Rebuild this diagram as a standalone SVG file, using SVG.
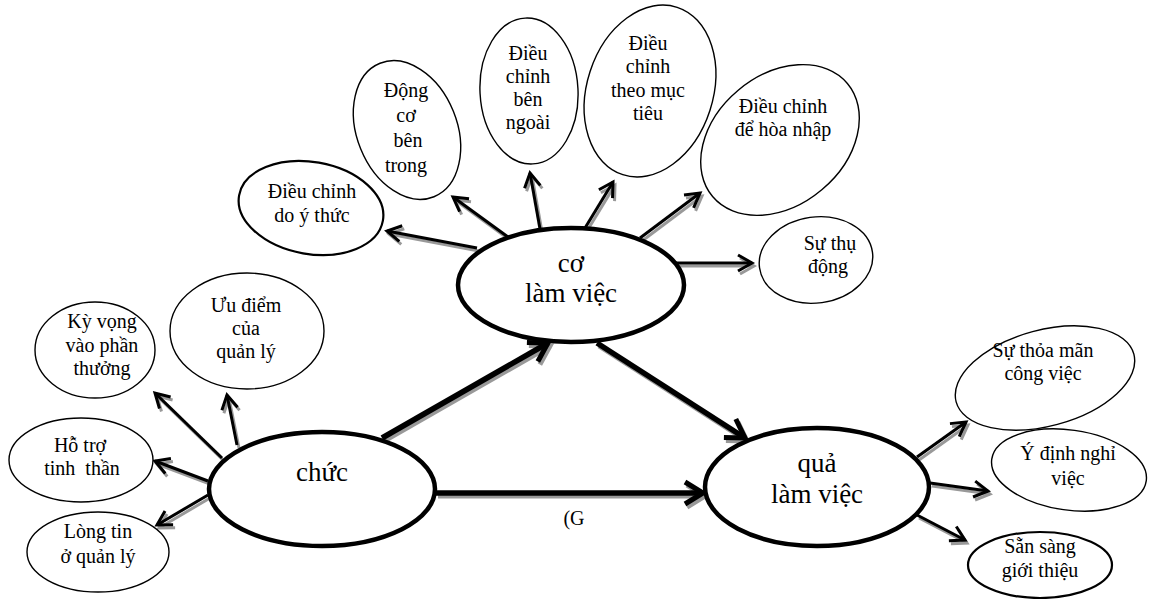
<svg xmlns="http://www.w3.org/2000/svg" width="1149" height="599" viewBox="0 0 1149 599">
<style>
.bg{fill:#fff}
.sm{fill:#fff;stroke:#000;stroke-width:1.4}
.smb{fill:#fff;stroke:#000;stroke-width:2.2}
.mn{fill:#fff;stroke:#000;stroke-width:4.5}
text{font-family:'Liberation Serif','DejaVu Serif',serif;fill:#000;text-anchor:middle}
.t{font-size:20px}
.tm{font-size:27px}
.ln{stroke:#000;stroke-width:3;fill:none;marker-end:url(#ah)}
.lns{stroke:#999;stroke-width:3;fill:none;marker-end:url(#ahs)}
.lk{stroke:#000;stroke-width:5.5;fill:none;marker-end:url(#ahk)}
.lks{stroke:#999;stroke-width:5;fill:none;marker-end:url(#ahks)}
</style>
<defs>
<marker id="ah" markerUnits="userSpaceOnUse" viewBox="-20 -12 24 24" refX="0" refY="0" markerWidth="24" markerHeight="24" orient="auto">
<path d="M-14,-8 L0,0 L-14,8" fill="none" stroke="#000" stroke-width="3"/>
</marker>
<marker id="ahs" markerUnits="userSpaceOnUse" viewBox="-20 -12 24 24" refX="0" refY="0" markerWidth="24" markerHeight="24" orient="auto">
<path d="M-14,-8 L0,0 L-14,8" fill="none" stroke="#999" stroke-width="3"/>
</marker>
<marker id="ahk" markerUnits="userSpaceOnUse" viewBox="-26 -16 32 32" refX="0" refY="0" markerWidth="32" markerHeight="32" orient="auto">
<path d="M-18,-11 L0,0 L-18,11" fill="none" stroke="#000" stroke-width="5"/>
</marker>
<marker id="ahks" markerUnits="userSpaceOnUse" viewBox="-26 -16 32 32" refX="0" refY="0" markerWidth="32" markerHeight="32" orient="auto">
<path d="M-18,-11 L0,0 L-18,11" fill="none" stroke="#999" stroke-width="5"/>
</marker>
</defs>
<rect class="bg" x="0" y="0" width="1149" height="599"/>

<g id="connectors">
<g id="shadows" transform="translate(2,3)">
<line class="lns" x1="477" y1="248" x2="387" y2="231"/>
<line class="lns" x1="508" y1="237" x2="453" y2="197"/>
<line class="lns" x1="540" y1="229" x2="530" y2="173"/>
<line class="lns" x1="585" y1="228" x2="613" y2="182"/>
<line class="lns" x1="640" y1="238" x2="700" y2="193"/>
<line class="lns" x1="675" y1="263" x2="752" y2="263"/>
<line class="lns" x1="237" y1="445" x2="227" y2="395"/>
<line class="lns" x1="222" y1="458" x2="155" y2="393"/>
<line class="lns" x1="208" y1="481" x2="155" y2="461"/>
<line class="lns" x1="208" y1="495" x2="157" y2="525"/>
<line class="lns" x1="917" y1="457" x2="966" y2="422"/>
<line class="lns" x1="930" y1="483" x2="988" y2="491"/>
<line class="lns" x1="917" y1="515" x2="965" y2="540"/>
<line class="lks" x1="382" y1="438" x2="548" y2="343"/>
<line class="lks" x1="597" y1="343" x2="745" y2="438"/>
<line class="lks" x1="436" y1="493" x2="703" y2="493"/>
</g>
<line class="ln" x1="477" y1="248" x2="387" y2="231"/>
<line class="ln" x1="508" y1="237" x2="453" y2="197"/>
<line class="ln" x1="540" y1="229" x2="530" y2="173"/>
<line class="ln" x1="585" y1="228" x2="613" y2="182"/>
<line class="ln" x1="640" y1="238" x2="700" y2="193"/>
<line class="ln" x1="675" y1="263" x2="752" y2="263"/>
<line class="ln" x1="237" y1="445" x2="227" y2="395"/>
<line class="ln" x1="222" y1="458" x2="155" y2="393"/>
<line class="ln" x1="208" y1="481" x2="155" y2="461"/>
<line class="ln" x1="208" y1="495" x2="157" y2="525"/>
<line class="ln" x1="917" y1="457" x2="966" y2="422"/>
<line class="ln" x1="930" y1="483" x2="988" y2="491"/>
<line class="ln" x1="917" y1="515" x2="965" y2="540"/>
<line class="lk" x1="382" y1="438" x2="548" y2="343"/>
<line class="lk" x1="597" y1="343" x2="745" y2="438"/>
<line class="lk" x1="436" y1="493" x2="703" y2="493"/>
<text class="t" x="574" y="525" font-family="Liberation Serif, serif">(G</text>
</g>

<g id="n-doythuc">
<ellipse class="smb" cx="311" cy="208" rx="73" ry="46" transform="rotate(10 311 208)"/>
<text class="t" x="312" y="198" font-family="Liberation Serif, serif">Điều chỉnh<tspan x="312" dy="24">do ý thức</tspan></text>
</g>
<g id="n-dongco">
<ellipse class="sm" cx="407" cy="130" rx="50" ry="72" transform="rotate(-22 407 130)"/>
<text class="t" x="406" y="97" font-family="Liberation Serif, serif">Động<tspan x="406" dy="25">cơ</tspan><tspan x="408" dy="25">bên</tspan><tspan x="406" dy="25">trong</tspan></text>
</g>
<g id="n-benngoai">
<ellipse class="sm" cx="529" cy="91" rx="49" ry="73" transform="rotate(-3 529 91)"/>
<text class="t" x="528" y="60" font-family="Liberation Serif, serif">Điều<tspan x="528" dy="23">chỉnh</tspan><tspan x="528" dy="23">bên</tspan><tspan x="528" dy="23">ngoài</tspan></text>
</g>
<g id="n-muctieu">
<ellipse class="sm" cx="650" cy="91" rx="63" ry="88" transform="rotate(18 650 91)"/>
<text class="t" x="648" y="50" font-family="Liberation Serif, serif">Điều<tspan x="648" dy="23">chỉnh</tspan><tspan x="648" dy="24">theo mục</tspan><tspan x="648" dy="23">tiêu</tspan></text>
</g>
<g id="n-hoanhap">
<ellipse class="sm" cx="780" cy="140" rx="88" ry="65" transform="rotate(-40 780 140)"/>
<text class="t" x="783" y="113" font-family="Liberation Serif, serif">Điều chỉnh<tspan x="783" dy="23">để hòa nhập</tspan></text>
</g>
<g id="n-thudong">
<ellipse class="sm" cx="816" cy="260" rx="57" ry="43" transform="rotate(-8 816 260)"/>
<text class="t" x="830" y="250" font-family="Liberation Serif, serif">Sự thụ<tspan x="828" dy="23">động</tspan></text>
</g>
<g id="n-co">
<ellipse class="mn" cx="571" cy="285" rx="113" ry="57"/>
<text class="tm" x="571" y="272" font-family="Liberation Serif, serif">cơ<tspan x="571" dy="30">làm việc</tspan></text>
</g>
<g id="n-chuc">
<ellipse class="mn" cx="322" cy="489" rx="113" ry="57"/>
<text class="tm" x="322" y="481" font-family="Liberation Serif, serif">chức</text>
</g>
<g id="n-qua">
<ellipse class="mn" cx="817" cy="487" rx="112" ry="59"/>
<text class="tm" x="817" y="472" font-family="Liberation Serif, serif">quả<tspan x="817" dy="31">làm việc</tspan></text>
</g>
<g id="n-kyvong">
<ellipse class="sm" cx="95" cy="350" rx="60" ry="48"/>
<text class="t" x="102" y="328" font-family="Liberation Serif, serif">Kỳ vọng<tspan x="102" dy="24">vào phần</tspan><tspan x="102" dy="23">thưởng</tspan></text>
</g>
<g id="n-uudiem">
<ellipse class="sm" cx="247" cy="331" rx="77" ry="58"/>
<text class="t" x="246" y="312" font-family="Liberation Serif, serif">Ưu điểm<tspan x="246" dy="23">của</tspan><tspan x="246" dy="23">quản lý</tspan></text>
</g>
<g id="n-hotro">
<ellipse class="sm" cx="81" cy="460" rx="72" ry="42"/>
<text class="t" x="80" y="452" font-family="Liberation Serif, serif">Hỗ trợ<tspan x="82" dy="23" xml:space="preserve">tinh  thần</tspan></text>
</g>
<g id="n-longtin">
<ellipse class="sm" cx="98" cy="552" rx="71" ry="40"/>
<text class="t" x="98" y="538" font-family="Liberation Serif, serif">Lòng tin<tspan x="98" dy="25">ở quản lý</tspan></text>
</g>
<g id="n-thoaman">
<ellipse class="sm" cx="1045" cy="378" rx="92" ry="48" transform="rotate(-15 1045 378)"/>
<text class="t" x="1043" y="357" font-family="Liberation Serif, serif">Sự thỏa mãn<tspan x="1043" dy="23">công việc</tspan></text>
</g>
<g id="n-ydinh">
<ellipse class="sm" cx="1069" cy="470" rx="78" ry="40" transform="rotate(8 1069 470)"/>
<text class="t" x="1068" y="460" font-family="Liberation Serif, serif">Ý định nghỉ<tspan x="1068" dy="25">việc</tspan></text>
</g>
<g id="n-sansang">
<ellipse class="smb" cx="1040" cy="565" rx="72" ry="33"/>
<text class="t" x="1040" y="553" font-family="Liberation Serif, serif">Sẵn sàng<tspan x="1040" dy="24">giới thiệu</tspan></text>
</g>
</svg>
